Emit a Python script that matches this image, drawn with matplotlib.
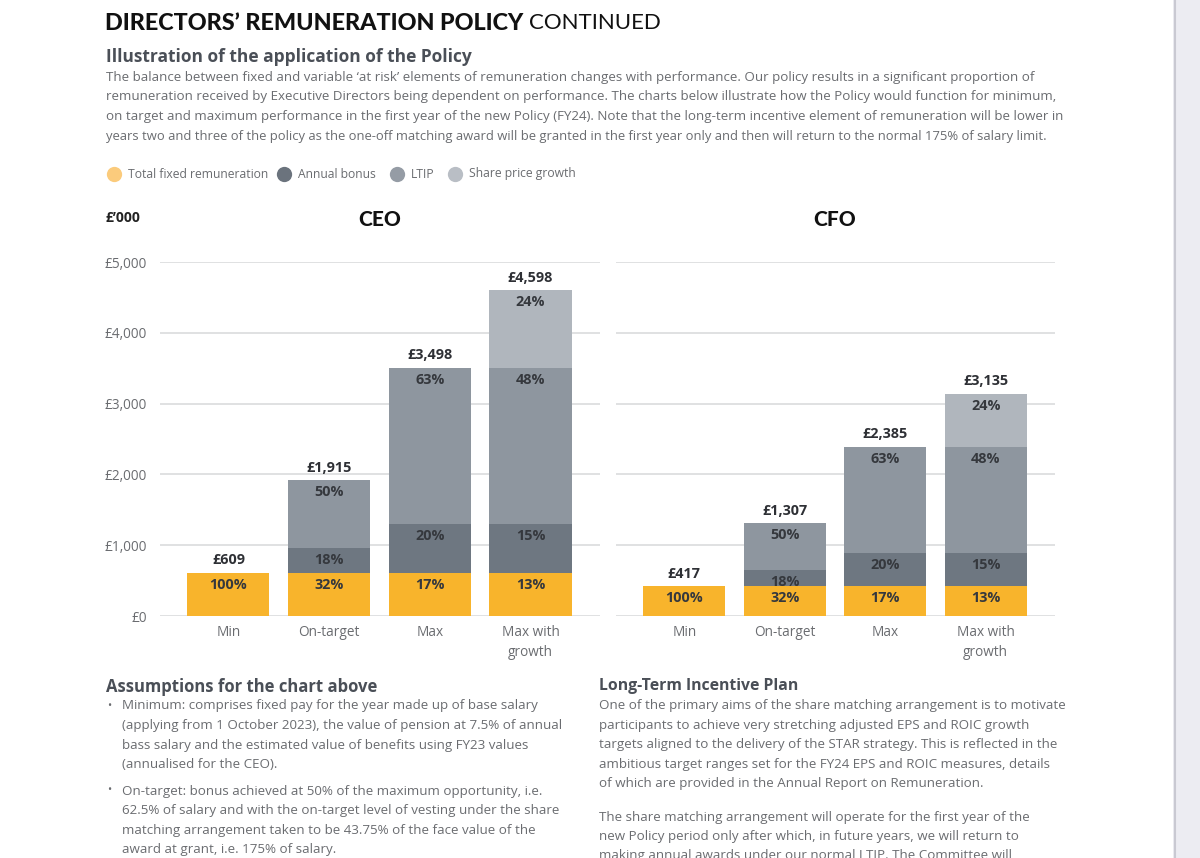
import matplotlib
matplotlib.use("Agg")
import matplotlib.pyplot as plt
from matplotlib.patches import Rectangle
from matplotlib.lines import Line2D

# ---- data ----
categories = ["Min", "On-target", "Max", "Max with\ngrowth"]
series_names = ["Total fixed remuneration", "Annual bonus", "LTIP", "Share price growth"]

ceo_fixed = [609, 609, 609, 609]
ceo_bonus = [0, 345, 690, 690]
ceo_ltip = [0, 961, 2199, 2199]
ceo_growth = [0, 0, 0, 1100]
ceo_totals = ["£609", "£1,915", "£3,498", "£4,598"]
ceo_pct_fixed = ["100%", "32%", "17%", "13%"]
ceo_pct_bonus = [None, "18%", "20%", "15%"]
ceo_pct_ltip = [None, "50%", "63%", "48%"]
ceo_pct_growth = [None, None, None, "24%"]

cfo_fixed = [417, 417, 417, 417]
cfo_bonus = [0, 235, 470, 470]
cfo_ltip = [0, 655, 1498, 1498]
cfo_growth = [0, 0, 0, 750]
cfo_totals = ["£417", "£1,307", "£2,385", "£3,135"]
cfo_pct_fixed = ["100%", "32%", "17%", "13%"]
cfo_pct_bonus = [None, "18%", "20%", "15%"]
cfo_pct_ltip = [None, "50%", "63%", "48%"]
cfo_pct_growth = [None, None, None, "24%"]

y_ticks = [0, 1000, 2000, 3000, 4000, 5000]
y_ticklabels = ["£0", "£1,000", "£2,000", "£3,000", "£4,000", "£5,000"]

bar_colors = ["#F8B42C", "#6E7781", "#8E969F", "#B0B6BD"]
legend_colors = ["#FBCB7C", "#6B737D", "#959CA5", "#B9BEC5"]

BODY = "Open Sans"
plt.rcParams["font.family"] = [BODY, "DejaVu Sans"]

W, H = 1200, 858
fig = plt.figure(figsize=(12, 8.58), dpi=100)
fig.patch.set_facecolor("white")

def fx(px):
    return px / W

def fy(py):
    return 1 - py / H

# page edge
fig.patches.append(Rectangle((fx(1173), 0), fx(27), 1, transform=fig.transFigure,
                             facecolor="#ECECF2", edgecolor="none", zorder=0))
fig.lines.append(Line2D([fx(1175), fx(1175)], [0, 1], transform=fig.transFigure,
                        color="#C9C9D2", lw=1.5))

text_grey = "#6A6C70"
head_grey = "#4A4F57"

# ---- header ----
t = fig.text(fx(105), fy(23), "DIRECTORS’ REMUNERATION POLICY", fontsize=16.8,
             fontweight="black", family=["Lato", "DejaVu Sans"], color="#111111", va="center")
fig.canvas.draw()
bb = t.get_window_extent()
fig.text(fx(bb.x1 + 6), fy(23), "CONTINUED", fontsize=16, fontweight="normal",
         family=["Lato", "DejaVu Sans"], color="#111111", va="center")

fig.text(fx(106), fy(57), "Illustration of the application of the Policy", fontsize=12.5,
         fontweight="bold", color=head_grey, va="center")

intro = [
    "The balance between fixed and variable ‘at risk’ elements of remuneration changes with performance. Our policy results in a significant proportion of",
    "remuneration received by Executive Directors being dependent on performance. The charts below illustrate how the Policy would function for minimum,",
    "on target and maximum performance in the first year of the new Policy (FY24). Note that the long-term incentive element of remuneration will be lower in",
    "years two and three of the policy as the one-off matching award will be granted in the first year only and then will return to the normal 175% of salary limit.",
]
intro_sizes = [9.6, 9.6, 9.6, 9.35]
for i, (line, fs) in enumerate(zip(intro, intro_sizes)):
    fig.text(fx(106), fy(77 + i * 19.8), line, fontsize=fs, color=text_grey, va="center")

# ---- legend ----
leg_x = [114, 284, 397, 455]
for x, name, c in zip(leg_x, series_names, legend_colors):
    fig.lines.append(Line2D([fx(x)], [fy(174)], transform=fig.transFigure, marker="o",
                            markersize=11, color=c, markeredgecolor="none", ls="none"))
    fig.text(fx(x + 14), fy(174), name, fontsize=8.7, color=text_grey, va="center")

fig.text(fx(106), fy(218), "£’000", fontsize=10, fontweight="bold", color="#222222", va="center")

# ---- charts ----
def draw_chart(left_px, right_px, title, title_x, fixed, bonus, ltip, growth,
               totals, pf, pb, pl, pg, show_y):
    ax = fig.add_axes([fx(left_px), fy(616), fx(right_px - left_px), (616 - 262) / H])
    x = list(range(len(categories)))
    width = 0.815
    bottoms = [0] * len(x)
    segs = [(fixed, pf), (bonus, pb), (ltip, pl), (growth, pg)]
    for (vals, pcts), c in zip(segs, bar_colors):
        ax.bar(x, vals, width=width, bottom=bottoms, color=c, edgecolor="none", zorder=2)
        tops = [b + v for b, v in zip(bottoms, vals)]
        for xi, top, v, p in zip(x, tops, vals, pcts):
            if p and v > 0:
                ax.annotate(p, (xi, top), xytext=(0, -8.4), textcoords="offset points",
                            ha="center", va="center", fontsize=10.4, fontweight="bold",
                            color="#35383D", zorder=3)
        bottoms = tops
    for xi, top, lab in zip(x, bottoms, totals):
        ax.annotate(lab, (xi, top), xytext=(0, 9.3), textcoords="offset points",
                    ha="center", va="center", fontsize=10.4, fontweight="bold",
                    color="#2E3035", annotation_clip=False)
    ax.set_ylim(0, 5000)
    ax.set_xlim(-0.68, 3.69)
    ax.set_yticks(y_ticks)
    for yv in y_ticks:
        ax.axhline(yv, color="#DADBDD", lw=1.2, zorder=1)
    if show_y:
        ax.set_yticklabels(y_ticklabels)
    else:
        ax.set_yticklabels([])
    ax.set_xticks(x)
    ax.set_xticklabels(categories, linespacing=1.45)
    ax.tick_params(axis="both", length=0, labelsize=9.8, labelcolor=text_grey)
    ax.tick_params(axis="y", pad=9.4)
    ax.tick_params(axis="x", pad=6.5)
    for s in ax.spines.values():
        s.set_visible(False)
    ax.set_facecolor("none")
    fig.text(fx(title_x), fy(220), title, fontsize=15, fontweight="black",
             family=["Lato", "DejaVu Sans"], color="#111111", ha="center", va="center")
    return ax

draw_chart(160, 600, "CEO", 380, ceo_fixed, ceo_bonus, ceo_ltip, ceo_growth,
           ceo_totals, ceo_pct_fixed, ceo_pct_bonus, ceo_pct_ltip, ceo_pct_growth, True)
draw_chart(616, 1055, "CFO", 835, cfo_fixed, cfo_bonus, cfo_ltip, cfo_growth,
           cfo_totals, cfo_pct_fixed, cfo_pct_bonus, cfo_pct_ltip, cfo_pct_growth, False)

# ---- bottom text ----
fig.text(fx(106), fy(687), "Assumptions for the chart above", fontsize=12, fontweight="bold",
         color=head_grey, va="center")
bullet1 = [
    "Minimum: comprises fixed pay for the year made up of base salary",
    "(applying from 1 October 2023), the value of pension at 7.5% of annual",
    "bass salary and the estimated value of benefits using FY23 values",
    "(annualised for the CEO).",
]
bullet2 = [
    "On-target: bonus achieved at 50% of the maximum opportunity, i.e.",
    "62.5% of salary and with the on-target level of vesting under the share",
    "matching arrangement taken to be 43.75% of the face value of the",
    "award at grant, i.e. 175% of salary.",
]
for start, lines in [(706, bullet1), (791, bullet2)]:
    fig.text(fx(107), fy(start), "•", fontsize=8, color=text_grey, va="center")
    for i, line in enumerate(lines):
        fig.text(fx(122), fy(start + i * 19.6), line, fontsize=9.6, color=text_grey, va="center")

fig.text(fx(599), fy(686), "Long-Term Incentive Plan", fontsize=11.3, fontweight="bold",
         color=head_grey, va="center")
ltip_p1 = [
    "One of the primary aims of the share matching arrangement is to motivate",
    "participants to achieve very stretching adjusted EPS and ROIC growth",
    "targets aligned to the delivery of the STAR strategy. This is reflected in the",
    "ambitious target ranges set for the FY24 EPS and ROIC measures, details",
    "of which are provided in the Annual Report on Remuneration.",
]
ltip_p2 = [
    "The share matching arrangement will operate for the first year of the",
    "new Policy period only after which, in future years, we will return to",
    "making annual awards under our normal LTIP. The Committee will",
]
for i, line in enumerate(ltip_p1):
    fig.text(fx(599), fy(706 + i * 19.4), line, fontsize=9.6, color=text_grey, va="center")
for i, line in enumerate(ltip_p2):
    fig.text(fx(599), fy(817 + i * 19.4), line, fontsize=9.6, color=text_grey, va="center")

fig.savefig("out.png", dpi=100)
